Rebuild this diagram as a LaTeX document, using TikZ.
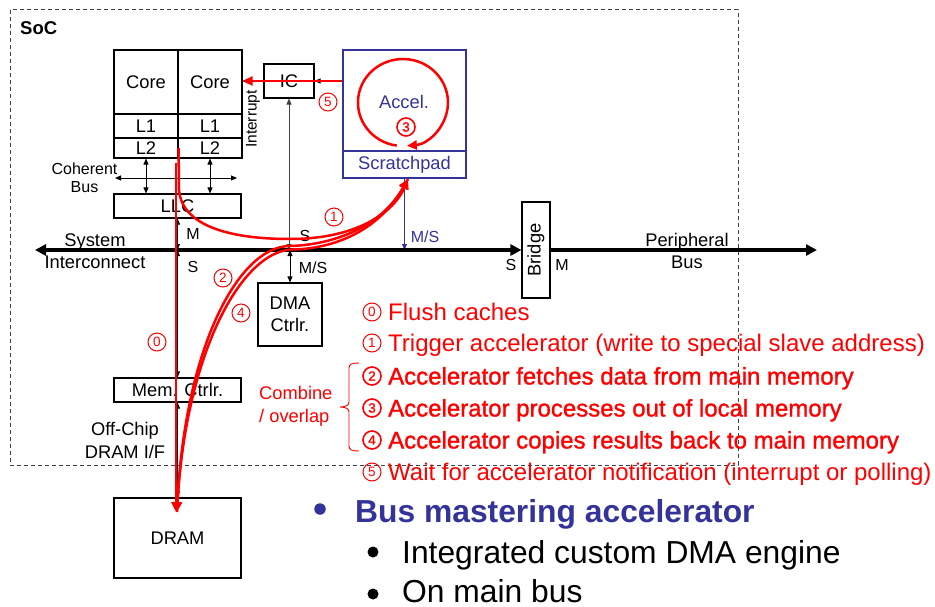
\documentclass[tikz,border=0pt]{standalone}
\usepackage{fontspec}
\setmainfont{Liberation Sans}
\newfontfamily\fbsans[FakeBold=1.2]{Liberation Sans}
\usetikzlibrary{arrows.meta}
\definecolor{accblue}{RGB}{51,51,153}
\definecolor{pptred}{RGB}{255,0,0}
\newcommand\myfA{\fontsize{18.3pt}{22pt}\selectfont}
\newcommand\myfS{\fontsize{16pt}{18.5pt}\selectfont}
\newcommand\myfL{\fontsize{24pt}{28pt}\selectfont}
\newcommand\myfB{\fontsize{31.8pt}{38pt}\selectfont}
\begin{document}
\begin{tikzpicture}[x=1pt,y=-1pt,
  every node/.style={inner sep=0pt},
  box/.style={draw,line width=1.1pt,font=\myfA},
  bbox/.style={draw=accblue,line width=1.8pt,text=accblue,font=\myfA},
  lbl/.style={font=\myfA},
  sml/.style={font=\myfS},
  tarr2/.style={line width=0.9pt,{Triangle[length=6pt,width=5pt]}-{Triangle[length=6pt,width=5pt]}},
  tarr1/.style={line width=0.9pt,-{Triangle[length=6pt,width=5pt]}},
  bus/.style={line width=3.5pt},
  redline/.style={draw=pptred,line width=2.5pt,-{Triangle[length=10pt,width=9pt]}},
  cnum/.style={circle,draw=pptred,line width=1pt,text=pptred,minimum size=18pt,font=\fontsize{13.5pt}{13.5pt}\selectfont},
  cnumb/.style={cnum,line width=1.6pt,font=\fontsize{13.5pt}{13.5pt}\fbsans},
  listtxt/.style={text=pptred,font=\myfL,anchor=base west},
  listbold/.style={text=pptred,font=\fontsize{24pt}{28pt}\fbsans,anchor=base west},
  bullet/.style={circle,minimum size=#1},
]
\useasboundingbox (0,0) rectangle (935,607);
% SoC frame
\draw[dash pattern=on 4pt off 3pt,line width=1pt,black!75] (10,10) rectangle (738,465);
\node[anchor=base west,font=\fontsize{18.5pt}{22pt}\selectfont\bfseries] (soc) at (20,35) {SoC};

% cores and caches
\node[box,minimum width=64pt,minimum height=64pt] (coreL) at (146,82) {Core};
\node[box,minimum width=64pt,minimum height=64pt] (coreR) at (210,82) {Core};
\node[box,minimum width=64pt,minimum height=24pt] (l1L) at (146,126) {L1};
\node[box,minimum width=64pt,minimum height=24pt] (l1R) at (210,126) {L1};
\node[box,minimum width=64pt,minimum height=20pt] (l2L) at (146,148) {L2};
\node[box,minimum width=64pt,minimum height=20pt] (l2R) at (210,148) {L2};
\node[box,minimum width=127pt,minimum height=24pt] (llc) at (177.5,206) {LLC};
\node[sml,align=center] (cohb) at (84.5,178) {Coherent\\Bus};

% IC, accelerator
\node[box,minimum width=50pt,minimum height=34pt] (ic) at (289,81) {IC};
\node[bbox,minimum width=123pt,minimum height=101pt] (accel) at (404.5,100.5) {};
\node[lbl,text=accblue] (acct) at (404,102) {Accel.};
\node[bbox,minimum width=123pt,minimum height=27pt] (scratch) at (404.5,164.5) {Scratchpad};
\node[sml,rotate=90,font=\fontsize{15.5pt}{18pt}\selectfont] (intr) at (253,119) {Interrupt};

% other blocks
\node[box,minimum width=28pt,minimum height=96pt] (bridge) at (536,250) {};
\node[lbl,rotate=90] (bridget) at (bridge.center) {Bridge};
\node[box,align=center,minimum width=64pt,minimum height=63pt,font=\fontsize{18.3pt}{22.5pt}\selectfont] (dma) at (290,314.5) {DMA\\Ctrlr.};
\node[box,minimum width=127pt,minimum height=24pt] (memc) at (177.5,390) {Mem. Ctrlr.};
\node[box,minimum width=127pt,minimum height=80pt] (dram) at (177.5,538) {DRAM};
\node[lbl,align=center,font=\fontsize{18.3pt}{23pt}\selectfont] (offc) at (125,440) {Off-Chip\\DRAM I/F};
\node[lbl,align=center] (sysi) at (95,251) {System\\Interconnect};
\node[lbl,align=center] (perb) at (687,251) {Peripheral\\Bus};

% bus labels
\node[sml] (lm1) at (193,234) {M};
\node[sml] (ls1) at (193,267) {S};
\node[sml] (ls2) at (305,236) {S};
\node[sml] (lms) at (313,268) {M/S};
\node[sml,text=accblue] (lms2) at (425,237) {M/S};
\node[sml] (ls3) at (511,265) {S};
\node[sml] (lm3) at (562,265) {M};

% thin connectors
\coordinate (busL) at (35,250);
\coordinate (busR) at (817,250);
\coordinate (cbL) at (115,178);
\coordinate (cbR) at (237,178);
\draw[tarr2] (cbL) -- (cbR);
\draw[tarr2] (l2L.south) -- (l2L.south |- llc.north);
\draw[tarr2] (l2R.south) -- (l2R.south |- llc.north);
\draw[tarr2] (llc.south) -- (llc.south |- busL);
\draw[tarr2] (llc.south |- busL) -- (llc.south |- memc.north);
\draw[tarr2] (memc.south) -- (dram.north);
\draw[tarr2,black!75] (ic.south) -- (ic.south |- busL);
\draw[tarr2] (dma.north |- busL) -- (dma.north);
\draw[tarr1,draw=accblue,fill=accblue] (scratch.south) -- (scratch.south |- busL);
\draw[tarr1] (accel.west |- ic.east) -- (ic.east);
\draw[tarr1] (ic.west) -- (coreR.east |- ic.west);

% buses
\draw[bus,{Triangle[length=11pt,width=11pt]}-{Triangle[length=11pt,width=11pt]}] (busL) -- (bridge.west);
\draw[bus,-{Triangle[length=11pt,width=11pt]}] (bridge.east) -- (busR);

% red flows
\coordinate (z0s) at (176,163);
\coordinate (dramIn) at (177,512);
\coordinate (spIn) at (408,179);
\draw[redline] (accel.west |- ic.east) -- (coreR.east |- ic.west);
\draw[redline] (z0s) -- (z0s |- dramIn);
\draw[redline] (l2L.east) -- (179,190) .. controls (182,226) and (230,239) .. (290,239) .. controls (360,239) and (395,210) .. (spIn);
\draw[redline] (dramIn) .. controls (183,350) and (238,246) .. (290,246) .. controls (330,245) and (380,229) .. (spIn);
\draw[redline] (spIn) .. controls (382,232) and (332,249) .. (292,249.5) .. controls (242,251) and (186,352) .. (dramIn);
\draw[redline] (396.7,145.6) arc[start angle=262,end angle=-85,x radius=45pt,y radius=43.5pt];

% circled step labels
\node[cnum] (n0) at (157,342) {0};
\node[cnum] (n1) at (334,217) {1};
\node[cnum] (n2) at (223,278) {2};
\node[cnumb] (n3) at (406,127) {3};
\node[cnum] (n4) at (241,313) {4};
\node[cnum] (n5) at (328,102) {5};

% step list
\node[cnum] (c0) at (372,312) {0};
\node[listtxt] (t0) at (388,320.5) {Flush caches};
\node[cnum] (c1) at (372,343) {1};
\node[listtxt] (t1) at (388,351.5) {Trigger accelerator (write to special slave address)};
\node[cnumb] (c2) at (372,376) {2};
\node[listbold] (t2) at (388,384.5) {Accelerator fetches data from main memory};
\node[cnumb] (c3) at (372,408) {3};
\node[listbold] (t3) at (388,416.5) {Accelerator processes out of local memory};
\node[cnumb] (c4) at (372,440) {4};
\node[listbold] (t4) at (388,448.5) {Accelerator copies results back to main memory};
\node[cnum] (c5) at (372,472) {5};
\node[listtxt] (t5) at (388,480.5) {Wait for accelerator notification (interrupt or polling)};

% brace and combine label
\draw[pptred,line width=0.9pt] (359,363) .. controls (352,363) and (349,364) .. (349,368) -- (349,402) .. controls (349,405) and (346,407) .. (340,407) .. controls (346,407) and (349,409) .. (349,412) -- (349,446) .. controls (349,450) and (352,451) .. (359,451);
\node[lbl,align=left,anchor=west,text=pptred,font=\fontsize{18.3pt}{23pt}\selectfont] (comb) at (259,406) {Combine\\/ overlap};

% bullets
\node[bullet=11.5pt,fill=accblue] (bul1) at (320,509) {};
\node[anchor=base west,text=accblue,font=\myfB\bfseries] (b1) at (355,522) {Bus mastering accelerator};
\node[bullet=11pt,fill=black] (bul2) at (373,552) {};
\node[anchor=base west,font=\myfB] (b2) at (402,563) {Integrated custom DMA engine};
\node[bullet=11pt,fill=black] (bul3) at (373,594) {};
\node[anchor=base west,font=\myfB] (b3) at (402,602) {On main bus};
\end{tikzpicture}
\end{document}
